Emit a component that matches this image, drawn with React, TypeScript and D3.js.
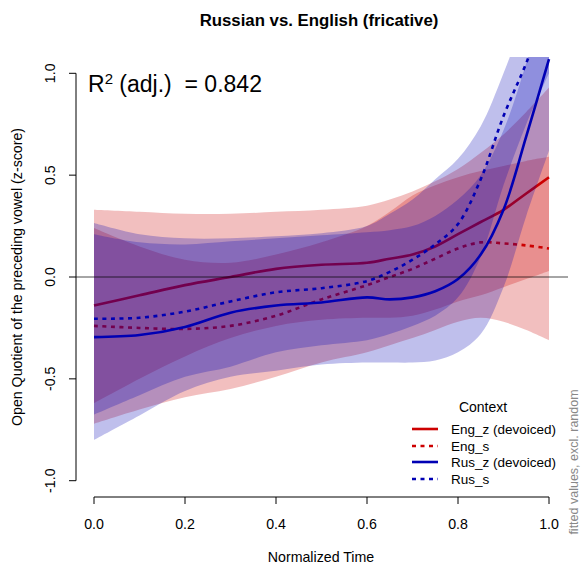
import React from "react";
import * as d3 from "d3";

const T = [0, 0.1, 0.2, 0.3, 0.4, 0.5, 0.6, 0.65, 0.7, 0.75, 0.8, 0.85, 0.9, 0.95, 1.0];

const engZFit = [-0.14, -0.09, -0.04, 0.0, 0.04, 0.06, 0.07, 0.09, 0.11, 0.15, 0.21, 0.27, 0.33, 0.41, 0.49];
const engZUpper = [0.33, 0.32, 0.31, 0.31, 0.32, 0.33, 0.35, 0.38, 0.42, 0.47, 0.53, 0.61, 0.7, 0.81, 0.93];
const engZLower = [-0.62, -0.5, -0.39, -0.3, -0.24, -0.21, -0.2, -0.2, -0.19, -0.16, -0.12, -0.09, -0.05, -0.01, 0.03];

const engSFit = [-0.24, -0.25, -0.255, -0.24, -0.19, -0.11, -0.04, 0.0, 0.04, 0.09, 0.14, 0.17, 0.165, 0.155, 0.14];
const engSUpper = [0.24, 0.15, 0.085, 0.07, 0.11, 0.17, 0.25, 0.32, 0.4, 0.45, 0.49, 0.52, 0.545, 0.57, 0.59];
const engSLower = [-0.72, -0.65, -0.59, -0.55, -0.49, -0.42, -0.37, -0.335, -0.3, -0.26, -0.22, -0.2, -0.22, -0.26, -0.31];

const rusZFit = [-0.295, -0.285, -0.245, -0.175, -0.14, -0.125, -0.1, -0.11, -0.1, -0.07, -0.01, 0.11, 0.33, 0.69, 1.07];
const rusZUpper = [0.21, 0.17, 0.16, 0.175, 0.19, 0.205, 0.22, 0.23, 0.25, 0.3, 0.38, 0.5, 0.72, 1.05, 1.45];
const rusZLower = [-0.8, -0.68, -0.56, -0.49, -0.46, -0.43, -0.42, -0.42, -0.42, -0.41, -0.37, -0.28, -0.05, 0.3, 0.62];

const rusSFit = [-0.205, -0.2, -0.17, -0.12, -0.075, -0.055, -0.02, 0.025, 0.085, 0.16, 0.26, 0.48, 0.79, 1.05, 1.35];
const rusSUpper = [0.265, 0.21, 0.19, 0.19, 0.2, 0.215, 0.25, 0.31, 0.38, 0.48, 0.58, 0.74, 1.0, 1.3, 1.6];
const rusSLower = [-0.675, -0.58, -0.49, -0.44, -0.37, -0.335, -0.31, -0.28, -0.24, -0.19, -0.1, 0.1, 0.45, 0.75, 1.0];

const legendLabels = ["Eng_z (devoiced)", "Eng_s", "Rus_z (devoiced)", "Rus_s"];
const xTicks = [0, 0.2, 0.4, 0.6, 0.8, 1.0];
const yTicks = [-1.0, -0.5, 0.0, 0.5, 1.0];

const RED = "#CD0000";
const BLUE = "#0000B4";
const FONT = "Liberation Sans, Arial, Helvetica, sans-serif";

const series = [
  { name: legendLabels[0], fit: engZFit, up: engZUpper, lo: engZLower, color: RED, dashed: false },
  { name: legendLabels[1], fit: engSFit, up: engSUpper, lo: engSLower, color: RED, dashed: true },
  { name: legendLabels[2], fit: rusZFit, up: rusZUpper, lo: rusZLower, color: BLUE, dashed: false },
  { name: legendLabels[3], fit: rusSFit, up: rusSUpper, lo: rusSLower, color: BLUE, dashed: true },
];

export default function App() {
  const W = 581, H = 566;
  const x = d3.scaleLinear().domain([0, 1]).range([94, 549]);
  const y = d3.scaleLinear().domain([-1, 1]).range([480.7, 73.3]);
  const plotL = 76, plotR = 567, plotT = 57, plotB = 497;

  const curve = d3.curveCatmullRom.alpha(0.5);
  const line = d3.line<number>().x((_, i) => x(T[i])).y((d) => y(d)).curve(curve);
  const areaFor = (up: number[], lo: number[]) =>
    d3.area<number>()
      .x((_, i) => x(T[i]))
      .y0((_, i) => y(lo[i]))
      .y1((_, i) => y(up[i]))
      .curve(curve)(T);

  const legendX1 = 412, legendX2 = 438, legendTextX = 451;
  const legendYs = [429, 446, 462, 479];

  return (
    <svg width={W} height={H} style={{ position: "absolute", left: 0, top: 0, background: "#fff" }} fontFamily={FONT}>
      <defs>
        <clipPath id="plotclip">
          <rect x={plotL} y={plotT} width={plotR - plotL} height={plotB - plotT} />
        </clipPath>
      </defs>
      <text x={319} y={26} textAnchor="middle" fontWeight="bold" fontSize={16.8}>
        Russian vs. English (fricative)
      </text>

      <g clipPath="url(#plotclip)">
        {series.map((s, k) => (
          <g key={k}>
            <path d={areaFor(s.up, s.lo) || ""} fill={s.color} fillOpacity={0.25} stroke="none" />
            <path
              d={line(s.fit) || ""}
              fill="none"
              stroke={s.color}
              strokeWidth={2.6}
              strokeDasharray={s.dashed ? "4,4.5" : undefined}
            />
          </g>
        ))}
      </g>
      <line x1={plotL} x2={plotR + 1} y1={y(0)} y2={y(0)} stroke="#000" strokeOpacity={0.7} strokeWidth={1} />

      {/* y axis */}
      <line x1={plotL} x2={plotL} y1={y(-1)} y2={y(1)} stroke="#000" />
      {yTicks.map((t) => (
        <g key={t}>
          <line x1={plotL - 7} x2={plotL} y1={y(t)} y2={y(t)} stroke="#000" />
          <text transform={`translate(${55},${y(t)}) rotate(-90)`} textAnchor="middle" fontSize={14.2}>
            {t.toFixed(1)}
          </text>
        </g>
      ))}
      <text transform={`translate(${22},${277}) rotate(-90)`} textAnchor="middle" fontSize={14.2}>
        Open Quotient of the preceding vowel (z-score)
      </text>

      {/* x axis */}
      <line x1={x(0)} x2={x(1)} y1={plotB} y2={plotB} stroke="#000" />
      {xTicks.map((t) => (
        <g key={t}>
          <line x1={x(t)} x2={x(t)} y1={plotB} y2={plotB + 7} stroke="#000" />
          <text x={x(t)} y={529} textAnchor="middle" fontSize={14.2}>
            {t.toFixed(1)}
          </text>
        </g>
      ))}
      <text x={321} y={562} textAnchor="middle" fontSize={14.2}>
        Normalized Time
      </text>

      {/* R2 */}
      <text x={88} y={92} fontSize={23}>
        R<tspan fontSize={15} dy={-8}>2</tspan>
        <tspan dy={8}>{"\u00A0(adj.)\u00A0\u00A0=\u00A00.842"}</tspan>
      </text>

      {/* legend */}
      <text x={483} y={412} textAnchor="middle" fontSize={14}>
        Context
      </text>
      {series.map((s, k) => (
        <g key={k}>
          <line
            x1={legendX1}
            x2={legendX2}
            y1={legendYs[k]}
            y2={legendYs[k]}
            stroke={s.color}
            strokeWidth={2.6}
            strokeDasharray={s.dashed ? "4,4.5" : undefined}
          />
          <text x={legendTextX} y={legendYs[k] + 5} fontSize={13.5}>
            {s.name}
          </text>
        </g>
      ))}

      <text transform={`translate(${578},${462}) rotate(-90)`} textAnchor="middle" fontSize={12.5} fill="#888">
        fitted values, excl. random
      </text>
    </svg>
  );
}
